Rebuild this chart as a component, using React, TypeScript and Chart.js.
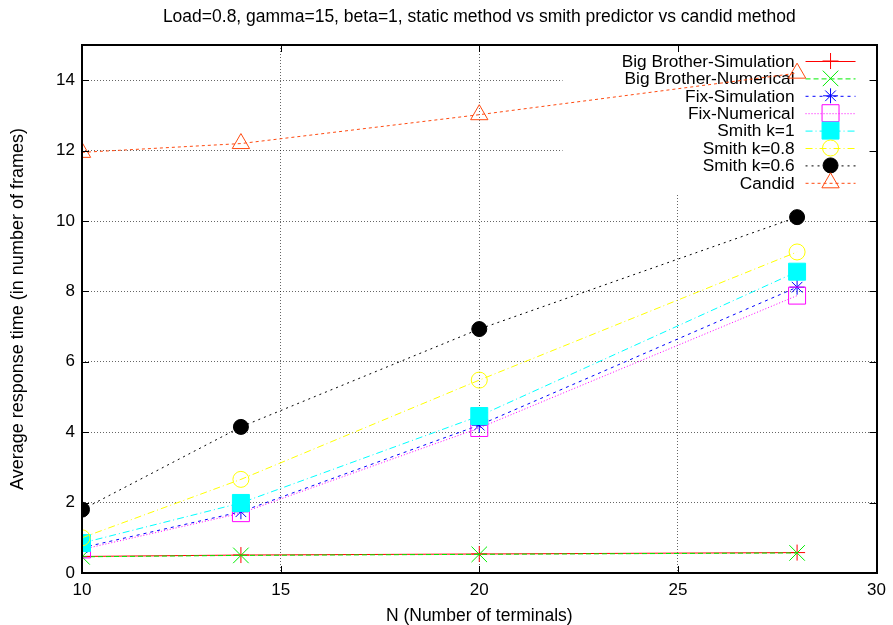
import React, { useEffect, useRef } from 'react';
import { Chart, registerables } from 'chart.js';
import { drawPoint } from 'chart.js/helpers';

Chart.register(...registerables);

const chartTitle = 'Load=0.8, gamma=15, beta=1, static method vs smith predictor vs candid method';
const xValues = [10, 14, 20, 28];
const seriesNames = [
  'Big Brother-Simulation',
  'Big Brother-Numerical',
  'Fix-Simulation',
  'Fix-Numerical',
  'Smith k=1',
  'Smith k=0.8',
  'Smith k=0.6',
  'Candid',
];
const bigBrotherSim = [0.47, 0.51, 0.54, 0.58];
const bigBrotherNum = [0.46, 0.5, 0.53, 0.57];
const fixSim = [0.72, 1.74, 4.2, 8.12];
const fixNum = [0.67, 1.7, 4.12, 7.88];
const smith1 = [0.85, 1.99, 4.46, 8.56];
const smith08 = [1.0, 2.66, 5.48, 9.12];
const smith06 = [1.8, 4.15, 6.93, 10.11];
const candid = [11.95, 12.2, 13.02, 14.2];
const xTicks = [10, 15, 20, 25, 30];
const yTicks = [0, 2, 4, 6, 8, 10, 12, 14];

const seriesValues = [bigBrotherSim, bigBrotherNum, fixSim, fixNum, smith1, smith08, smith06, candid];

const styles = [
  { color: '#ff0000', dash: [], point: 'cross', radius: 8, fill: false },
  { color: '#00ee00', dash: [5, 3], point: 'crossRot', radius: 11, fill: false },
  { color: '#0000ff', dash: [3, 4], point: 'star', radius: 7.5, fill: false },
  { color: '#ff00ff', dash: [1, 2], point: 'rect', radius: 12, fill: false },
  { color: '#00ffff', dash: [7, 3, 1, 3], point: 'rect', radius: 12, fill: true },
  { color: '#ffff00', dash: [7, 3, 1, 3], point: 'circle', radius: 8, fill: false },
  { color: '#000000', dash: [2, 4], point: 'circle', radius: 7.5, fill: true },
  { color: '#ff4a10', dash: [3, 3], point: 'triangle', radius: 10, fill: false },
];

const FONT = '"Liberation Sans", Arial, sans-serif';

const titlePlugin = {
  id: 'gnuTitle',
  afterDraw(chart: any) {
    const ctx = chart.ctx;
    const a = chart.chartArea;
    ctx.save();
    ctx.fillStyle = '#000';
    ctx.font = '17.5px ' + FONT;
    ctx.textAlign = 'center';
    ctx.textBaseline = 'middle';
    ctx.fillText(chartTitle, (a.left + a.right) / 2, 17);
    ctx.restore();
  },
};

const keyPlugin = {
  id: 'gnuKey',
  beforeDatasetsDraw(chart: any) {
    const ctx = chart.ctx;
    const a = chart.chartArea;
    ctx.save();
    ctx.fillStyle = '#ffffff';
    const boxLeft = a.right - 314;
    ctx.fillRect(boxLeft, a.top + 1, a.right - boxLeft - 1, 148);
    ctx.font = '17.3px ' + FONT;
    ctx.textAlign = 'right';
    ctx.textBaseline = 'middle';
    seriesNames.forEach((name, i) => {
      const y = a.top + 16 + i * 17.4;
      const st = styles[i];
      ctx.fillStyle = '#000';
      ctx.fillText(name, a.right - 82, y + 1);
      ctx.strokeStyle = st.color;
      ctx.lineWidth = 1;
      ctx.setLineDash(st.dash);
      ctx.beginPath();
      ctx.moveTo(a.right - 71, y + 0.5);
      ctx.lineTo(a.right - 21, y + 0.5);
      ctx.stroke();
      ctx.setLineDash([]);
      ctx.fillStyle = st.fill ? st.color : 'rgba(0,0,0,0)';
      drawPoint(ctx, { pointStyle: st.point, radius: st.radius, rotation: 0, borderWidth: 1 } as any, a.right - 46, y);
    });
    ctx.restore();
  },
};

const framePlugin = {
  id: 'gnuFrame',
  afterDatasetsDraw(chart: any) {
    const ctx = chart.ctx;
    const a = chart.chartArea;
    const xs = chart.scales.x;
    const ys = chart.scales.y;
    ctx.save();
    ctx.strokeStyle = '#000';
    ctx.lineWidth = 1;
    ctx.setLineDash([]);
    ctx.beginPath();
    xTicks.forEach((v) => {
      const px = Math.round(xs.getPixelForValue(v)) + 0.5;
      ctx.moveTo(px, a.bottom);
      ctx.lineTo(px, a.bottom - 7);
      ctx.moveTo(px, a.top);
      ctx.lineTo(px, a.top + 7);
    });
    yTicks.forEach((v) => {
      const py = Math.round(ys.getPixelForValue(v)) + 0.5;
      ctx.moveTo(a.left, py);
      ctx.lineTo(a.left + 7, py);
      ctx.moveTo(a.right, py);
      ctx.lineTo(a.right - 7, py);
    });
    ctx.stroke();
    ctx.lineWidth = 2;
    ctx.strokeRect(Math.round(a.left), Math.round(a.top), Math.round(a.right - a.left), Math.round(a.bottom - a.top));
    ctx.restore();
  },
};

export default function App() {
  const ref = useRef<HTMLCanvasElement | null>(null);
  useEffect(() => {
    if (!ref.current) return;
    Chart.defaults.font.family = FONT;
    const datasets = seriesNames.map((name, i) => ({
      label: name,
      data: xValues.map((x, j) => ({ x, y: seriesValues[i][j] })),
      borderColor: styles[i].color,
      backgroundColor: styles[i].fill ? styles[i].color : 'rgba(0,0,0,0)',
      borderWidth: 1,
      borderDash: styles[i].dash,
      pointStyle: styles[i].point,
      pointRadius: styles[i].radius,
      pointBorderWidth: 1,
      pointBorderColor: styles[i].color,
      pointBackgroundColor: styles[i].fill ? styles[i].color : 'rgba(0,0,0,0)',
      fill: false,
      tension: 0,
      order: 10 - i,
    }));
    const chart = new Chart(ref.current, {
      type: 'line',
      data: { datasets },
      plugins: [keyPlugin, framePlugin, titlePlugin],
      options: {
        animation: false,
        responsive: false,
        devicePixelRatio: 1,
        layout: { padding: { left: 0, right: 14, top: 45, bottom: 0 } },
        plugins: {
          legend: { display: false },
          tooltip: { enabled: false },
          title: { display: false },
        },
        scales: {
          x: {
            type: 'linear',
            min: 10,
            max: 30,
            afterBuildTicks: (axis: any) => {
              axis.ticks = xTicks.map((v) => ({ value: v }));
            },
            afterFit: (scale: any) => {
              scale.height = 52;
            },
            ticks: { color: '#000', font: { size: 17 }, padding: 7 },
            grid: { color: 'rgba(0,0,0,0.6)', drawTicks: false, lineWidth: 1 },
            border: { display: false, dash: [1, 2] },
            title: {
              display: true,
              text: 'N (Number of terminals)',
              color: '#000',
              font: { size: 17.5, lineHeight: 1 },
              padding: { top: 0, bottom: 0 },
            },
          },
          y: {
            type: 'linear',
            min: 0,
            max: 15,
            afterBuildTicks: (axis: any) => {
              axis.ticks = yTicks.map((v) => ({ value: v }));
            },
            afterFit: (scale: any) => {
              scale.width = 82;
            },
            ticks: { color: '#000', font: { size: 17 }, padding: 7 },
            grid: { color: 'rgba(0,0,0,0.6)', drawTicks: false, lineWidth: 1 },
            border: { display: false, dash: [1, 2] },
            title: {
              display: true,
              text: 'Average response time (in number of frames)',
              color: '#000',
              font: { size: 18, lineHeight: 1 },
              padding: { top: 9, bottom: 0 },
            },
          },
        },
      },
    } as any);
    return () => chart.destroy();
  }, []);
  return (
    <div style={{ position: 'absolute', left: 0, top: 0, width: 893, height: 625, background: '#fff' }}>
      <canvas ref={ref} width={893} height={625} style={{ width: 893, height: 625 }} />
    </div>
  );
}
